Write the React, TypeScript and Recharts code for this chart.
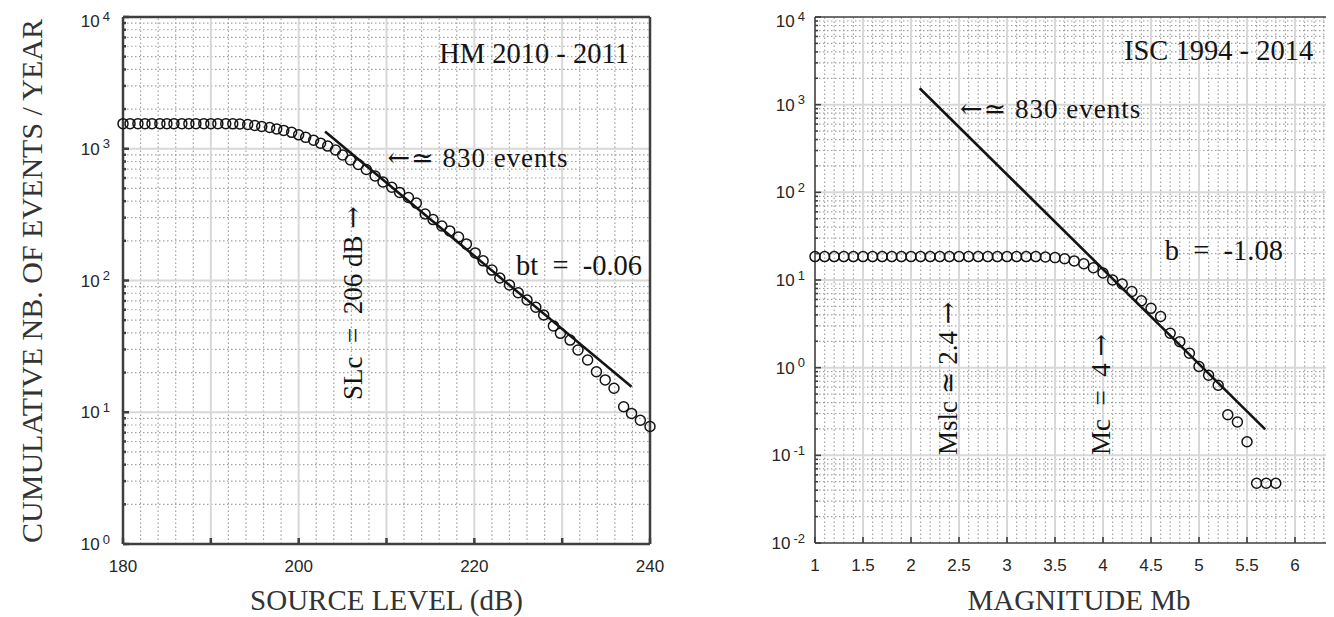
import React from 'react';
import { ComposedChart, Scatter, XAxis, YAxis, ReferenceLine } from 'recharts';

const SERIF = '"Liberation Serif", "DejaVu Serif", serif';
const SYMBOL = '"DejaVu Serif", serif';
const SANS = '"Liberation Sans", Arial, sans-serif';
const INK = '#141414';
const AXIS = '#3f3f3f';
const TICK_TEXT = '#262626';
const MAJOR_GRID = '#d8d8d8';
const MINOR_GRID = '#a2a2a2';
const H = 609;

// left panel: source levels, HM 2010 - 2011
const slLevel = [
  180, 180.8, 181.7, 182.5, 183.3, 184.2, 185, 185.8, 186.7, 187.5,
  188.3, 189.2, 190, 190.8, 191.7, 192.5, 193.3, 194.2, 195, 195.8,
  196.7, 197.5, 198.3, 199.2, 200, 200.8, 201.7, 202.5, 203.3, 204.2,
  205, 205.9, 206.8, 207.7, 208.7, 209.6, 210.6, 211.5, 212.5, 213.4,
  214.4, 215.3, 216.3, 217.2, 218.2, 219.1, 220.1, 221, 222, 222.9,
  224, 225, 226, 227, 227.9, 229, 229.8, 230.9, 231.8, 232.9,
  233.9, 234.9, 235.9, 237, 237.9, 238.9, 240,
];
const slCount = [
  1550, 1550, 1550, 1550, 1550, 1550, 1550, 1550, 1550, 1550,
  1550, 1550, 1550, 1550, 1548, 1545, 1540, 1527, 1500, 1475,
  1450, 1414, 1378, 1332, 1275, 1220, 1160, 1103, 1048, 978,
  897, 822, 759, 696, 621, 559, 510, 466, 427, 387,
  320, 290, 259, 238, 214, 189, 162, 141, 120, 104.5,
  92.5, 80.8, 71.1, 62.6, 54.7, 45.2, 39.7, 35.3, 29.7, 24.9,
  20.3, 17.6, 15.2, 11, 9.8, 8.7, 7.8,
];
const slFitLevel = [203, 237.9];
const slFitCount = [1350, 15.6];
const slTicks = [180, 190, 200, 210, 220, 230, 240];
const slTickLabels = [180, 200, 220, 240];
const slDecades = [1, 10, 100, 1000, 10000];

// right panel: ISC magnitudes 1994 - 2014
const mbMag = [
  1, 1.1, 1.2, 1.3, 1.4, 1.5, 1.6, 1.7, 1.8, 1.9,
  2, 2.1, 2.2, 2.3, 2.4, 2.5, 2.6, 2.7, 2.8, 2.9,
  3, 3.1, 3.2, 3.3, 3.4, 3.5, 3.6, 3.7, 3.8, 3.9,
  4, 4.1, 4.2, 4.3, 4.4, 4.5, 4.6, 4.7, 4.8, 4.9,
  5, 5.1, 5.2, 5.3, 5.4, 5.5, 5.6, 5.7, 5.8,
];
const mbCount = [
  18.5, 18.5, 18.5, 18.5, 18.5, 18.5, 18.5, 18.5, 18.5, 18.5,
  18.5, 18.5, 18.5, 18.5, 18.5, 18.5, 18.5, 18.5, 18.5, 18.5,
  18.5, 18.5, 18.5, 18.5, 18.3, 18, 17.5, 16.5, 15.3, 13.8,
  12, 10, 9, 7.4, 5.8, 4.75, 3.83, 2.47, 1.98, 1.46,
  1.03, 0.82, 0.63, 0.29, 0.24, 0.143, 0.048, 0.048, 0.048,
];
const mbFitMag = [2.09, 5.69];
const mbFitCount = [1538, 0.198];
const mbTicks = [1, 1.5, 2, 2.5, 3, 3.5, 4, 4.5, 5, 5.5, 6, 6.5];
const mbTickLabels = [1, 1.5, 2, 2.5, 3, 3.5, 4, 4.5, 5, 5.5, 6];
const mbDecades = [0.01, 0.1, 1, 10, 100, 1000, 10000];

type Note = { x: number; y: number; text: string; end?: boolean; small?: boolean; vertical?: boolean };

const slNotes: Note[] = [
  { x: 237.6, y: 4477, text: 'HM 2010 - 2011', end: true },
  { x: 210.1, y: 727, text: '←≃ 830 events', small: true },
  { x: 239.1, y: 110, text: 'bt\u2002=\u2002-0.06', end: true },
  { x: 207.2, y: 12.4, text: 'SLc\u2002=\u2002206 dB →', vertical: true },
];
const mbNotes: Note[] = [
  { x: 6.19, y: 3228, text: 'ISC 1994 - 2014', end: true },
  { x: 2.51, y: 705, text: '←≃ 830 events', small: true },
  { x: 5.875, y: 16.9, text: 'b\u2002=\u2002-1.08', end: true },
  { x: 2.48, y: 0.101, text: 'Mslc ≃ 2.4 →', vertical: true },
  { x: 4.07, y: 0.101, text: 'Mc\u2002=\u20024 →', vertical: true },
];

const toPoints = (xs: number[], ys: number[]) => xs.map((x, i) => ({ x, y: ys[i] }));

const minorLog = (decades: number[]) =>
  decades.slice(0, -1).flatMap((d) => [2, 3, 4, 5, 6, 7, 8, 9].map((k) => parseFloat((d * k).toPrecision(3))));

const slMinorX: number[] = [];
for (let v = 182; v < 240; v += 2) if (v % 10 !== 0) slMinorX.push(v);
const mbMinorX: number[] = [];
for (let i = 11; i < 65; i++) if (i % 5 !== 0) mbMinorX.push(i / 10);

const Ring = (p: any) => (
  <circle cx={p.cx} cy={p.cy} r={5} fill="none" stroke={INK} strokeWidth={1.5} />
);

const withSymbols = (s: string) =>
  s
    .split(/([←→≃])/)
    .filter(Boolean)
    .map((part, i) =>
      /[←→≃]/.test(part) ? (
        <tspan key={i} fontFamily={SYMBOL}>
          {part}
        </tspan>
      ) : (
        <tspan key={i}>{part}</tspan>
      )
    );

const NoteText = (p: any) => {
  const n: Note = p.payload;
  const size = n.vertical ? 27 : n.small ? 27 : 28.5;
  return (
    <text
      x={p.cx}
      y={p.cy}
      textAnchor={n.end ? 'end' : 'start'}
      fontFamily={SERIF}
      fontSize={size}
      fill={INK}
      letterSpacing={n.small ? 1 : 0}
      style={{ whiteSpace: 'pre' }}
      transform={n.vertical ? `rotate(-90 ${p.cx} ${p.cy})` : undefined}
    >
      {withSymbols(n.text)}
    </text>
  );
};

type PanelProps = {
  width: number;
  margin: { top: number; right: number; bottom: number; left: number };
  xDomain: [number, number];
  yDomain: [number, number];
  xTicks: number[];
  xLabels: number[];
  xMinor: number[];
  decades: number[];
  points: { x: number; y: number }[];
  fit: { x: number; y: number }[];
  notes: Note[];
  frame: number;
  labelGap: number;
};

function Panel(p: PanelProps) {
  const yMinor = minorLog(p.decades);
  const yTicks = [...p.decades, ...yMinor];
  const line = { stroke: AXIS, strokeWidth: p.frame };
  const isDecade = (v: number) => p.decades.includes(v);

  const bottomTick = (t: any) => {
    const v = t.payload.value;
    return (
      <g>
        <line x1={t.x} x2={t.x} y1={t.y} y2={t.y - 6} stroke={AXIS} strokeWidth={p.frame} />
        {p.xLabels.includes(v) && (
          <text x={t.x} y={t.y + 28} textAnchor="middle" fontFamily={SANS} fontSize={17} fill={TICK_TEXT}>
            {v}
          </text>
        )}
      </g>
    );
  };
  const topTick = (t: any) => (
    <line x1={t.x} x2={t.x} y1={t.y} y2={t.y + 6} stroke={AXIS} strokeWidth={p.frame} />
  );
  const leftTick = (t: any) => {
    const v = t.payload.value;
    const major = isDecade(v);
    // the top label sits a bit lower so its exponent stays on the page
    const base = Math.max(t.y + 6, 19);
    return (
      <g>
        <line x1={t.x} x2={t.x + (major ? 6 : 3)} y1={t.y} y2={t.y} stroke={AXIS} strokeWidth={p.frame} />
        {major && (
          <text x={t.x - p.labelGap} y={base} textAnchor="end" fontFamily={SANS} fontSize={17} fill={TICK_TEXT}>
            10
            <tspan dx={3} dy={-6.5} fontSize={13}>
              {Math.round(Math.log10(v))}
            </tspan>
          </text>
        )}
      </g>
    );
  };
  const rightTick = (t: any) => {
    const major = isDecade(t.payload.value);
    return <line x1={t.x} x2={t.x - (major ? 6 : 3)} y1={t.y} y2={t.y} stroke={AXIS} strokeWidth={p.frame} />;
  };

  return (
    <ComposedChart width={p.width} height={H} margin={p.margin}>
      {p.xMinor.map((v) => (
        <ReferenceLine key={'mx' + v} x={v} stroke={MINOR_GRID} strokeWidth={1.2} strokeDasharray="1.5 2.5" />
      ))}
      {yMinor.map((v) => (
        <ReferenceLine key={'my' + v} y={v} stroke={MINOR_GRID} strokeWidth={1.2} strokeDasharray="1.5 2.5" />
      ))}
      {p.xTicks.slice(1, -1).map((v) => (
        <ReferenceLine key={'gx' + v} x={v} stroke={MAJOR_GRID} strokeWidth={2} />
      ))}
      {p.decades.slice(1, -1).map((v) => (
        <ReferenceLine key={'gy' + v} y={v} stroke={MAJOR_GRID} strokeWidth={2} />
      ))}
      <XAxis
        xAxisId={0}
        type="number"
        dataKey="x"
        domain={p.xDomain}
        ticks={p.xTicks}
        interval={0}
        height={1}
        tickSize={0}
        tickMargin={0}
        tickLine={false}
        axisLine={line}
        tick={bottomTick}
      />
      <XAxis
        xAxisId="top"
        orientation="top"
        type="number"
        domain={p.xDomain}
        ticks={p.xTicks}
        interval={0}
        height={1}
        tickSize={0}
        tickMargin={0}
        tickLine={false}
        axisLine={line}
        tick={topTick}
      />
      <YAxis
        yAxisId={0}
        type="number"
        dataKey="y"
        scale="log"
        domain={p.yDomain}
        ticks={yTicks}
        interval={0}
        width={1}
        tickSize={0}
        tickMargin={0}
        tickLine={false}
        axisLine={line}
        tick={leftTick}
      />
      <YAxis
        yAxisId="right"
        orientation="right"
        type="number"
        scale="log"
        domain={p.yDomain}
        ticks={yTicks}
        interval={0}
        width={1}
        tickSize={0}
        tickMargin={0}
        tickLine={false}
        axisLine={line}
        tick={rightTick}
      />
      <Scatter data={p.points} shape={Ring} isAnimationActive={false} />
      <Scatter
        data={p.fit}
        line={{ stroke: INK, strokeWidth: 2.6 }}
        shape={() => <g />}
        isAnimationActive={false}
      />
      <Scatter data={p.notes} shape={NoteText} isAnimationActive={false} />
    </ComposedChart>
  );
}

export default function App() {
  return (
    <div style={{ position: 'relative', width: 1326, height: H, overflow: 'hidden' }}>
      <style>{'html, body { overflow: hidden; }'}</style>
      <div style={{ position: 'absolute', left: 0, top: 0 }}>
        <Panel
          width={660}
          margin={{ top: 8, right: 17, bottom: 72, left: 114 }}
          xDomain={[180, 240]}
          yDomain={[1, 10000]}
          xTicks={slTicks}
          xLabels={slTickLabels}
          xMinor={slMinorX}
          decades={slDecades}
          points={toPoints(slLevel, slCount)}
          fit={toPoints(slFitLevel, slFitCount)}
          notes={slNotes}
          frame={2.5}
          labelGap={13}
        />
      </div>
      <div style={{ position: 'absolute', left: 680, top: 0 }}>
        <Panel
          width={680}
          margin={{ top: 8, right: 24, bottom: 73, left: 126 }}
          xDomain={[1, 6.5]}
          yDomain={[0.01, 10000]}
          xTicks={mbTicks}
          xLabels={mbTickLabels}
          xMinor={mbMinorX}
          decades={mbDecades}
          points={toPoints(mbMag, mbCount)}
          fit={toPoints(mbFitMag, mbFitCount)}
          notes={mbNotes}
          frame={1.6}
          labelGap={10}
        />
      </div>
      <svg
        width={1326}
        height={H}
        style={{ position: 'absolute', left: 0, top: 0, pointerEvents: 'none' }}
      >
        <text
          x={34}
          y={273}
          transform="rotate(-90 34 273)"
          textAnchor="middle"
          fontFamily={SERIF}
          fontSize={30}
          fill="#333"
        >
          CUMULATIVE NB. OF EVENTS / YEAR
        </text>
        <text x={378.5} y={602} textAnchor="middle" fontFamily={SERIF} fontSize={29} fill="#333">
          SOURCE LEVEL (dB)
        </text>
        <text x={1071} y={602} textAnchor="middle" fontFamily={SERIF} fontSize={29} fill="#333">
          MAGNITUDE Mb
        </text>
      </svg>
    </div>
  );
}
